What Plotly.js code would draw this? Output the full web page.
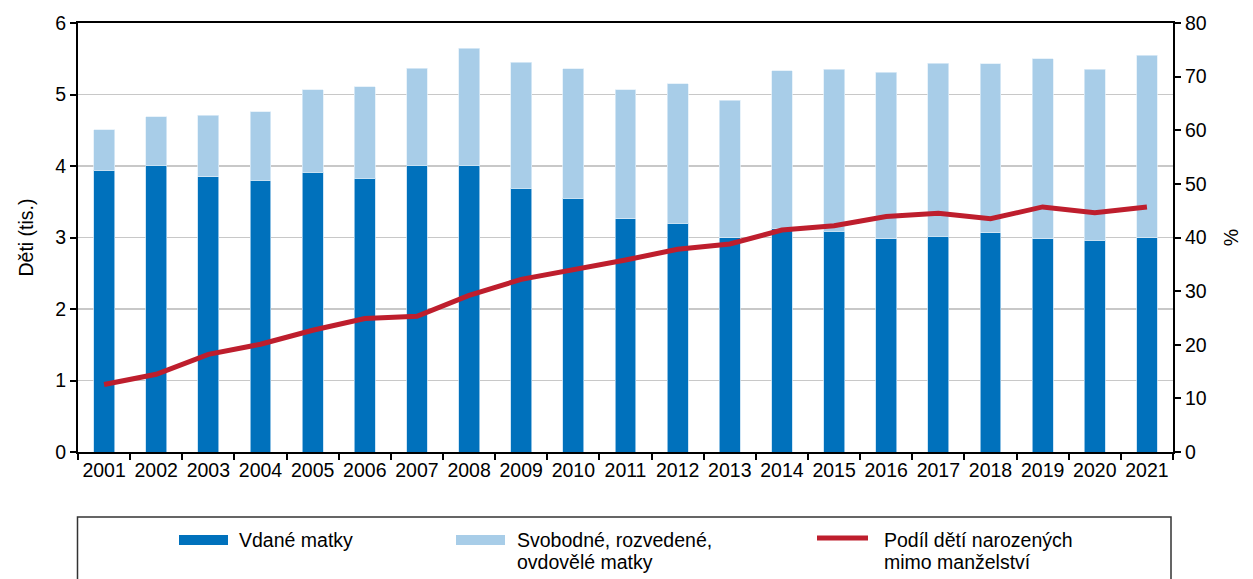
<!DOCTYPE html>
<html>
<head>
<meta charset="utf-8">
<script src="https://cdn.plot.ly/plotly-3.0.1.min.js"></script>
<style>
  html, body { margin: 0; padding: 0; background: #ffffff; }
  #chart { width: 1253px; height: 579px; }
</style>
</head>
<body>
<div id="chart"></div>
<script>
// ---- data ----
const years = ['2001','2002','2003','2004','2005','2006','2007','2008','2009','2010','2011',
               '2012','2013','2014','2015','2016','2017','2018','2019','2020','2021'];
// children of married mothers (thousands)
const married = [3.94, 4.01, 3.85, 3.80, 3.91, 3.83, 4.01, 4.01, 3.69, 3.55, 3.26,
                 3.20, 3.00, 3.13, 3.09, 2.98, 3.02, 3.07, 2.98, 2.96, 3.00];
// children of single, divorced, widowed mothers (thousands)
const unmarried = [0.57, 0.68, 0.86, 0.96, 1.16, 1.28, 1.36, 1.64, 1.76, 1.81, 1.81,
                   1.95, 1.92, 2.20, 2.26, 2.33, 2.42, 2.36, 2.52, 2.39, 2.55];
// share of children born outside marriage (%)
const share = [12.6, 14.5, 18.2, 20.1, 22.7, 24.9, 25.3, 29.2, 32.2, 33.9, 35.8,
               37.8, 38.8, 41.4, 42.2, 43.9, 44.5, 43.5, 45.7, 44.6, 45.7];

// legend labels (each as its text lines)
const legendLines = [
  ['Vdané matky'],
  ['Svobodné, rozvedené,', 'ovdovělé matky'],
  ['Podíl dětí narozených', 'mimo manželství']
];
const seriesNames = legendLines.map(l => l.join(' '));
const leftTitle = 'Děti (tis.)';
const rightTitle = '%';

const cDark = '#0071BC';
const cLight = '#A8CDE8';
const cRed = '#BE1E2D';
const FONT = 'Liberation Sans, Arial, sans-serif';
const FS = 19.5;
const W = 1253, H = 579;

// plot-area geometry (pixels) used to convert legend placement to paper coords
const PL = 78, PR = 1173, PT = 23, PB = 452;
const px = v => (v - PL) / (PR - PL);
const py = v => (PB - v) / (PB - PT);

const traces = [
  { type: 'bar', x: years, y: married, name: seriesNames[0],
    marker: { color: cDark, line: { color: 'rgba(190,220,242,0.9)', width: 0.8 } },
    hoverinfo: 'x+y' },
  { type: 'bar', x: years, y: unmarried, name: seriesNames[1],
    marker: { color: cLight, line: { color: 'rgba(225,238,248,0.9)', width: 0.8 } },
    hoverinfo: 'x+y' },
  { type: 'scatter', mode: 'lines', x: years, y: share, yaxis: 'y2', name: seriesNames[2],
    line: { color: cRed, width: 5 } }
];

// legend drawn as swatches + text (box below the plot)
const legendItems = [
  { swatch: 'bar', color: cDark, x0: 179, x1: 228, tx: 238 },
  { swatch: 'bar', color: cLight, x0: 456, x1: 505, tx: 516 },
  { swatch: 'line', color: cRed, x0: 817, x1: 868, tx: 883 }
];
const ROW1 = 540, ROW2 = 562;

const shapes = [
  { type: 'rect', xref: 'paper', yref: 'paper', x0: px(77.5), x1: px(1171),
    y0: py(517), y1: py(620), line: { color: '#333', width: 1.5 }, fillcolor: 'rgba(0,0,0,0)' }
];
const annotations = [];
legendItems.forEach((it, i) => {
  if (it.swatch === 'bar') {
    shapes.push({ type: 'rect', xref: 'paper', yref: 'paper', x0: px(it.x0), x1: px(it.x1),
      y0: py(ROW1 - 5), y1: py(ROW1 + 5), line: { width: 0 }, fillcolor: it.color });
  } else {
    shapes.push({ type: 'line', xref: 'paper', yref: 'paper', x0: px(it.x0), x1: px(it.x1),
      y0: py(ROW1 - 2), y1: py(ROW1 - 2), line: { color: it.color, width: 5 } });
  }
  legendLines[i].forEach((t, j) => {
    annotations.push({ xref: 'paper', yref: 'paper', x: px(it.tx), y: py(j === 0 ? ROW1 : ROW2),
      xanchor: 'left', yanchor: 'middle', showarrow: false, text: t, align: 'left',
      font: { family: FONT, size: FS, color: '#000' }, borderpad: 0 });
  });
});

const layout = {
  width: W, height: H,
  margin: { l: 78, r: 80, t: 23, b: 127, pad: 0 },
  paper_bgcolor: '#ffffff', plot_bgcolor: '#ffffff',
  font: { family: FONT, size: FS, color: '#000' },
  barmode: 'stack', bargap: 0.6,
  showlegend: false,
  xaxis: {
    type: 'category', tickson: 'boundaries', ticks: 'outside', ticklen: 6, tickwidth: 2,
    tickcolor: '#000', showline: true, linecolor: '#000', linewidth: 2, mirror: true,
    showgrid: false, tickangle: 0, automargin: false,
    tickfont: { family: FONT, size: FS, color: '#000' }, fixedrange: true
  },
  yaxis: {
    range: [0, 6], dtick: 1, tick0: 0, ticks: 'outside', ticklen: 6, tickwidth: 2, tickcolor: '#000',
    showline: true, linecolor: '#000', linewidth: 2, zeroline: false, automargin: true,
    showgrid: true, gridcolor: '#c8c8c8', gridwidth: 1.3,
    tickfont: { family: FONT, size: FS, color: '#000' },
    title: { text: leftTitle, font: { family: FONT, size: FS, color: '#000' }, standoff: 16 },
    fixedrange: true
  },
  yaxis2: {
    overlaying: 'y', side: 'right', range: [0, 80], dtick: 10, tick0: 0,
    ticks: 'outside', ticklen: 6, tickwidth: 2, tickcolor: '#000', automargin: true,
    showline: true, linecolor: '#000', linewidth: 2, zeroline: false, showgrid: false,
    tickfont: { family: FONT, size: FS, color: '#000' },
    title: { text: rightTitle, font: { family: FONT, size: FS, color: '#000' }, standoff: 19 },
    fixedrange: true
  },
  shapes: shapes,
  annotations: annotations
};

Plotly.newPlot('chart', traces, layout, { displayModeBar: false, staticPlot: true });
</script>
</body>
</html>
